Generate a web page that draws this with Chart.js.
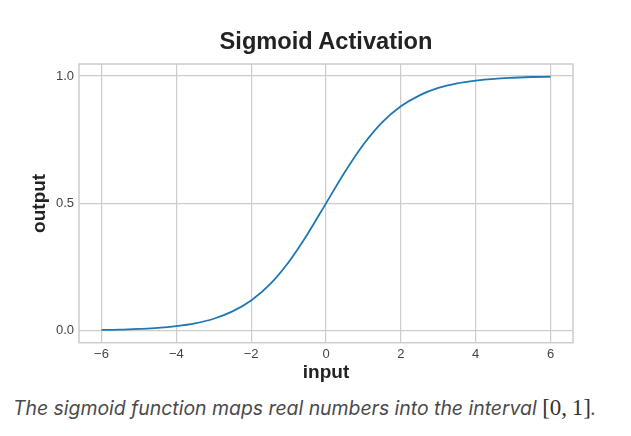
<!DOCTYPE html>
<html>
<head>
<meta charset="utf-8">
<script src="https://cdn.jsdelivr.net/npm/chart.js@4"></script>
<style>
  html, body { margin: 0; padding: 0; background: #fff; }
  #wrap { position: relative; width: 631px; height: 390px; }
  .title {
    position: absolute; left: 79px; width: 494px; top: 27px; margin: 0; text-align: center;
    font-family: "Liberation Sans", Arial, sans-serif; font-weight: bold; font-size: 23.6px;
    line-height: 28px; color: #222;
  }
  .caption {
    position: absolute; left: 13px; top: 394px; margin: 0;
    font-family: "Inter", "Open Sans", sans-serif; font-style: italic;
    font-size: 19.4px; line-height: 28px; color: #4a4a4a; white-space: nowrap;
  }
  .caption .math { font-family: "Liberation Serif", "DejaVu Serif", serif; font-style: normal; font-size: 23px; color: #333; }
</style>
</head>
<body>
<div id="wrap">
  <canvas id="sigmoid-chart"></canvas>
  <div class="title">Sigmoid Activation</div>
</div>
<p class="caption">The sigmoid function maps real numbers into the interval <span class="math">[0,&#8201;1]</span>.</p>
<script>
// values
const inputs  = [-6, -5.5, -5, -4.5, -4, -3.5, -3, -2.5, -2, -1.5, -1, -0.5, 0,
                 0.5, 1, 1.5, 2, 2.5, 3, 3.5, 4, 4.5, 5, 5.5, 6];
const outputs = [0.003, 0.004, 0.007, 0.011, 0.018, 0.029, 0.047, 0.076, 0.119, 0.182, 0.269, 0.378, 0.5,
                 0.622, 0.731, 0.818, 0.881, 0.924, 0.953, 0.971, 0.982, 0.989, 0.993, 0.996, 0.997];
const xTicks = [-6, -4, -2, 0, 2, 4, 6];
const yTicks = [0.0, 0.5, 1.0];

const gridColor = '#cccccc';
const tickColor = '#444444';

// box around the plot area, like matplotlib's axes frame
const frame = {
    id: 'frame',
    afterDraw(chart) {
        const a = chart.chartArea, ctx = chart.ctx;
        ctx.save();
        ctx.strokeStyle = gridColor;
        ctx.lineWidth = 1.5;
        ctx.strokeRect(a.left, a.top, a.right - a.left, a.bottom - a.top);
        ctx.restore();
    }
};

const canvas = document.getElementById('sigmoid-chart');
new Chart(canvas, {
    type: 'line',
    data: {
        datasets: [{
            data: inputs.map((x, i) => ({ x: x, y: outputs[i] })),
            borderColor: '#1f77b4',
            borderWidth: 1.8,
            pointRadius: 0,
            cubicInterpolationMode: 'monotone',
            fill: false
        }]
    },
    options: {
        responsive: true,
        maintainAspectRatio: false,
        animation: false,
        layout: { padding: { left: 0, right: 58, top: 64, bottom: 0 } },
        plugins: {
            legend: { display: false },
            tooltip: { enabled: false }
        },
        scales: {
            x: {
                type: 'linear',
                min: -6.6,
                max: 6.6,
                afterBuildTicks: axis => { axis.ticks = xTicks.map(v => ({ value: v })); },
                afterFit: axis => { axis.height = 47.3; },
                ticks: {
                    color: tickColor,
                    padding: 4,
                    font: { family: 'Liberation Sans', size: 13 },
                    callback: v => String(v).replace('-', '\u2212')
                },
                grid: { color: gridColor, lineWidth: 1.2, drawTicks: false },
                border: { display: false },
                title: {
                    display: true,
                    text: 'input',
                    color: '#222',
                    font: { family: 'Liberation Sans', size: 19, weight: 'bold' },
                    padding: { top: 2, bottom: 5.5 }
                }
            },
            y: {
                type: 'linear',
                min: -0.047,
                max: 1.047,
                afterBuildTicks: axis => { axis.ticks = yTicks.map(v => ({ value: v })); },
                afterFit: axis => { axis.width = 79; },
                ticks: {
                    color: tickColor,
                    padding: 5,
                    font: { family: 'Liberation Sans', size: 13 },
                    callback: v => v.toFixed(1)
                },
                grid: { color: gridColor, lineWidth: 1.2, drawTicks: false },
                border: { display: false },
                title: {
                    display: true,
                    text: 'output',
                    color: '#222',
                    font: { family: 'Liberation Sans', size: 19, weight: 'bold' },
                    padding: { top: 28, bottom: 0 }
                }
            }
        }
    },
    plugins: [frame]
});
</script>
</body>
</html>
